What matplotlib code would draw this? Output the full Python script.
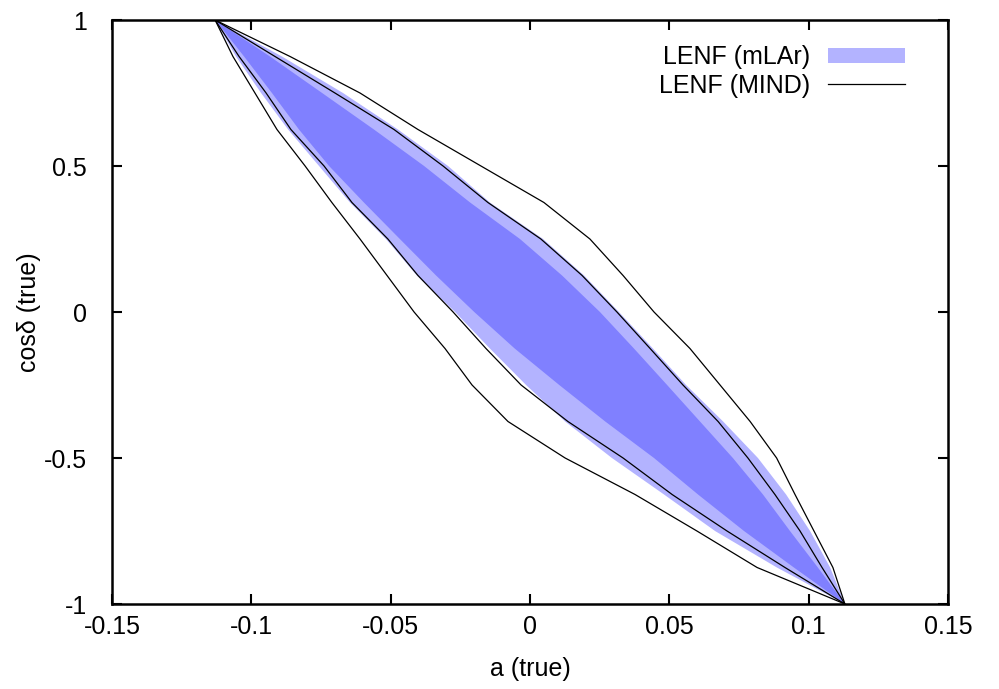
import matplotlib
matplotlib.use('Agg')
import matplotlib.pyplot as plt
from matplotlib.patches import Patch
from matplotlib.lines import Line2D

# cos(delta) levels where the contour edges were read
cosd = [1, 0.875, 0.75, 0.625, 0.5, 0.375, 0.25, 0.125, 0,
        -0.125, -0.25, -0.375, -0.5, -0.625, -0.75, -0.875, -1]

# MIND contours (black lines), right and left edge in a
mind_out_r = [-0.113, -0.0861, -0.0610, -0.0402, -0.0176, 0.0050, 0.0215, 0.0334, 0.0445,
              0.0574, 0.0682, 0.0790, 0.0885, 0.0951, 0.1019, 0.1087, 0.113]
mind_out_l = [-0.113, -0.1066, -0.0987, -0.0908, -0.0807, -0.0711, -0.0610, -0.0513, -0.0416,
              -0.0305, -0.0208, -0.0079, 0.0126, 0.0377, 0.0599, 0.0815, 0.113]
mind_in_r = [-0.113, -0.0915, -0.0700, -0.0488, -0.0312, -0.0151, 0.0039, 0.0187, 0.0312,
             0.0431, 0.0549, 0.0675, 0.0782, 0.0879, 0.0969, 0.1048, 0.113]
mind_in_l = [-0.113, -0.1044, -0.0947, -0.0858, -0.0739, -0.0639, -0.0510, -0.0402, -0.0276,
             -0.0158, -0.0032, 0.0136, 0.0334, 0.0510, 0.0707, 0.0915, 0.113]

# mLAr regions (filled), outer (light) and inner (dark)
mlar_lt_r = [-0.113, -0.0890, -0.0671, -0.0474, -0.0294, -0.0144, 0.0047, 0.0194, 0.0319,
             0.0441, 0.0560, 0.0693, 0.0818, 0.0919, 0.1005, 0.1077, 0.113]
mlar_lt_l = [-0.113, -0.1055, -0.0965, -0.0868, -0.0757, -0.0646, -0.0517, -0.0406, -0.0269,
             -0.0144, -0.0014, 0.0126, 0.0294, 0.0481, 0.0664, 0.0886, 0.113]
mlar_dk_r = [-0.113, -0.0933, -0.0746, -0.0560, -0.0380, -0.0215, -0.0036, 0.0115, 0.0251,
             0.0373, 0.0492, 0.0610, 0.0728, 0.0836, 0.0933, 0.1033, 0.113]
mlar_dk_l = [-0.113, -0.1026, -0.0926, -0.0829, -0.0721, -0.0596, -0.0467, -0.0337, -0.0200,
             -0.0055, 0.0105, 0.0270, 0.0445, 0.0603, 0.0768, 0.0947, 0.113]

xticks = [-0.15, -0.1, -0.05, 0, 0.05, 0.1, 0.15]
xticklabels = ['-0.15', '-0.1', '-0.05', '0', '0.05', '0.1', '0.15']
yticks = [-1, -0.5, 0, 0.5, 1]
yticklabels = ['-1', '-0.5', '0', '0.5', '1']

light = '#b3b3ff'
dark = '#8080ff'
fsize = 18

plt.rcParams['font.family'] = ['Liberation Sans', 'DejaVu Sans']


def closed(right, left):
    # walk down the right edge, back up the left edge
    a = list(right) + list(left[::-1])
    c = list(cosd) + list(cosd[::-1])
    return a, c


fig = plt.figure(figsize=(9.99, 6.89), dpi=100)
ax = fig.add_axes([112 / 999, 1 - 604 / 689, 836 / 999, 584 / 689])

a, c = closed(mlar_lt_r, mlar_lt_l)
ax.fill(a, c, color=light, lw=0, zorder=1)
a, c = closed(mlar_dk_r, mlar_dk_l)
ax.fill(a, c, color=dark, lw=0, zorder=2)

a, c = closed(mind_out_r, mind_out_l)
ax.plot(a, c, color='black', lw=0.9, zorder=3)
a, c = closed(mind_in_r, mind_in_l)
ax.plot(a, c, color='black', lw=0.9, zorder=3)

ax.set_xlim(-0.15, 0.15)
ax.set_ylim(-1, 1)
ax.set_xticks(xticks)
ax.set_xticklabels(xticklabels)
ax.set_yticks(yticks)
ax.set_yticklabels(yticklabels)
ax.tick_params(direction='in', length=7, width=1.5, labelsize=fsize,
               top=True, right=True)
ax.tick_params(axis='x', pad=8)
ax.tick_params(axis='y', pad=18)
for s in ax.spines.values():
    s.set_linewidth(1.8)

ax.set_xlabel('a (true)', fontsize=fsize, labelpad=13)
ax.set_ylabel('cosδ (true)', fontsize=fsize, labelpad=2)

handles = [Patch(facecolor=light, edgecolor='none'),
           Line2D([], [], color='black', lw=0.9)]
ax.legend(handles, ['LENF (mLAr)', 'LENF (MIND)'], loc='upper right',
          bbox_to_anchor=(0.964, 0.978), frameon=False, markerfirst=False,
          fontsize=fsize, handlelength=3.1, handleheight=0.6,
          labelspacing=0.18, handletextpad=0.7, borderpad=0)

fig.savefig('out.png', dpi=100)
